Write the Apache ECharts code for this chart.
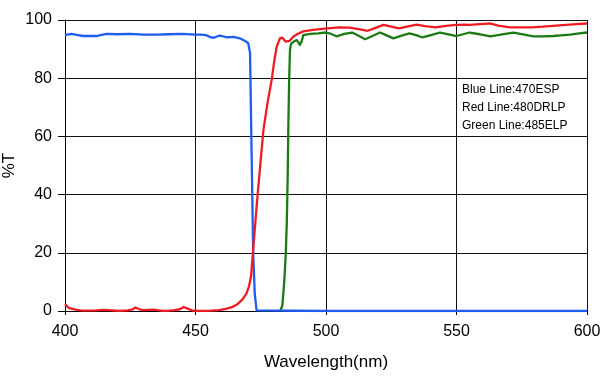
<!DOCTYPE html>
<html>
<head>
<meta charset="utf-8">
<script src="https://cdn.jsdelivr.net/npm/echarts@6/dist/echarts.min.js"></script>
<style>html,body{margin:0;padding:0;background:#fff}#c{width:600px;height:380px}</style>
</head>
<body>
<div id="c"></div>
<script>
var xTicks = [400, 450, 500, 550, 600];
var yTicks = [0, 20, 40, 60, 80, 100];
var notes = ['Blue Line:470ESP', 'Red Line:480DRLP', 'Green Line:485ELP'];

var blueX = [400,402.5,405,407,410,412,414,416,420,425,430,435,440,445,450,452,454,456,457,459,460,462,464.5,467,469,470.2,470.9,471.5,472.1,472.7,473.4,474,500,550,600];
var blueY = [94.8,95.2,94.8,94.5,94.5,94.5,94.9,95.2,95.1,95.2,95.0,95.0,95.1,95.2,95.0,95.0,94.8,94.0,93.9,94.6,94.5,94.0,94.2,93.7,92.8,92.0,88.7,54,20,6,0.2,0,0,0,0];

var redX = [400,401,402,404,406,408,412,415,418,421,424,426,427,428.5,430,432,434,436,438,440,442,444,445.5,447,449,452,456,459,461.6,464,466,468,469.5,470.5,471.3,472,473.4,474.6,476,477.5,479.2,480.2,481.1,482.4,483.3,484.5,486,487.5,489,491.3,495,499.6,505,509,513,516,519,522,525,528,531,534.7,538,542,546,550,553,555,559,562.8,566,570.5,575,579,583,587,592,596,600];
var redY = [2.3,1.4,0.9,0.5,0.2,0.1,0.2,0.4,0.2,0,0.2,0.6,1.2,0.6,0.3,0.4,0.5,0.2,0,0.1,0.3,0.6,1.4,0.8,0.1,0,0.1,0.3,0.7,1.3,2.3,4,6,8.5,12,20,35.8,48,62,71,79.5,86,90.8,93.8,93.9,92.6,92.8,94.3,95.2,96.1,96.6,97.0,97.5,97.4,96.8,96.3,97.3,98.3,97.7,97.1,97.7,98.4,97.9,97.5,98,98.3,98.4,98.3,98.6,98.8,98.1,97.5,97.5,97.5,97.7,98,98.3,98.6,98.8];

var greenX = [482.5,483.3,484,484.6,485,485.3,485.6,485.9,486.2,486.6,487.5,488.8,489.4,490,490.6,491.3,492,494,497,500,502,504,507,510,512.5,515,518,520.7,523,525.8,529,532,534.5,537,540.5,543.7,547,550,552.5,555,559,563,567.5,571.8,575.5,579.4,583,587,590,593.5,597,600];
var greenY = [0,2,10,20,31,45,65,80,89.7,91.8,92.5,93.1,92.3,91.4,92.5,94.8,95.0,95.2,95.4,95.7,95.2,94.4,95.2,95.7,94.6,93.4,94.6,95.7,94.8,93.7,94.6,95.4,94.8,94.0,94.9,95.7,95.1,94.5,95.1,95.7,95.1,94.4,95.1,95.7,95.1,94.4,94.4,94.5,94.7,95.0,95.4,95.7];

function zip(xs, ys) { return xs.map(function (x, i) { return [x, ys[i]]; }); }

var font = '"Liberation Sans", Arial, sans-serif';
var chart = echarts.init(document.getElementById('c'), null, {renderer: 'canvas'});
chart.setOption({
  animation: false,
  backgroundColor: '#ffffff',
  grid: {left: 65, right: 13, top: 20, bottom: 69, containLabel: false, outerBoundsMode: 'none'},
  xAxis: {
    type: 'value', min: xTicks[0], max: xTicks[xTicks.length - 1], interval: 50,
    name: 'Wavelength(nm)', nameLocation: 'middle', nameGap: 43, nameMoveOverlap: false,
    nameTextStyle: {color: '#000', fontSize: 17, fontFamily: font},
    axisLine: {show: true, lineStyle: {color: '#000', width: 1}},
    axisTick: {show: true, length: 4, lineStyle: {color: '#000'}},
    axisLabel: {color: '#000', fontSize: 16, fontFamily: font, margin: 13, hideOverlap: false,
      formatter: function (v) { return xTicks.indexOf(v) >= 0 ? String(v) : ''; }},
    splitLine: {show: true, lineStyle: {color: '#111', width: 1}}
  },
  yAxis: {
    type: 'value', min: yTicks[0], max: yTicks[yTicks.length - 1], interval: 20,
    name: '%T', nameLocation: 'middle', nameGap: 47, nameRotate: 90, nameMoveOverlap: false,
    nameTextStyle: {color: '#000', fontSize: 17, fontFamily: font},
    axisLine: {show: true, lineStyle: {color: '#000', width: 1}},
    axisTick: {show: true, length: 7, lineStyle: {color: '#000'}},
    axisLabel: {color: '#000', fontSize: 16, fontFamily: font, margin: 13},
    splitLine: {show: true, lineStyle: {color: '#111', width: 1}}
  },
  graphic: notes.map(function (t, i) {
    return {type: 'text', left: 462, top: 84 + i * 17.8, z: 100,
      style: {text: t, fill: '#000', font: '12px ' + font}};
  }),
  series: [
    {type: 'line', data: zip(greenX, greenY), showSymbol: false, smooth: false,
      lineStyle: {color: '#1b7a14', width: 2.3, join: 'round'}, z: 2},
    {type: 'line', data: zip(blueX, blueY), showSymbol: false, smooth: false,
      lineStyle: {color: '#1f5cf2', width: 2.3, join: 'round'}, z: 3},
    {type: 'line', data: zip(redX, redY), showSymbol: false, smooth: false,
      lineStyle: {color: '#ee1c22', width: 2.3, join: 'round'}, z: 4}
  ]
});
</script>
</body>
</html>
